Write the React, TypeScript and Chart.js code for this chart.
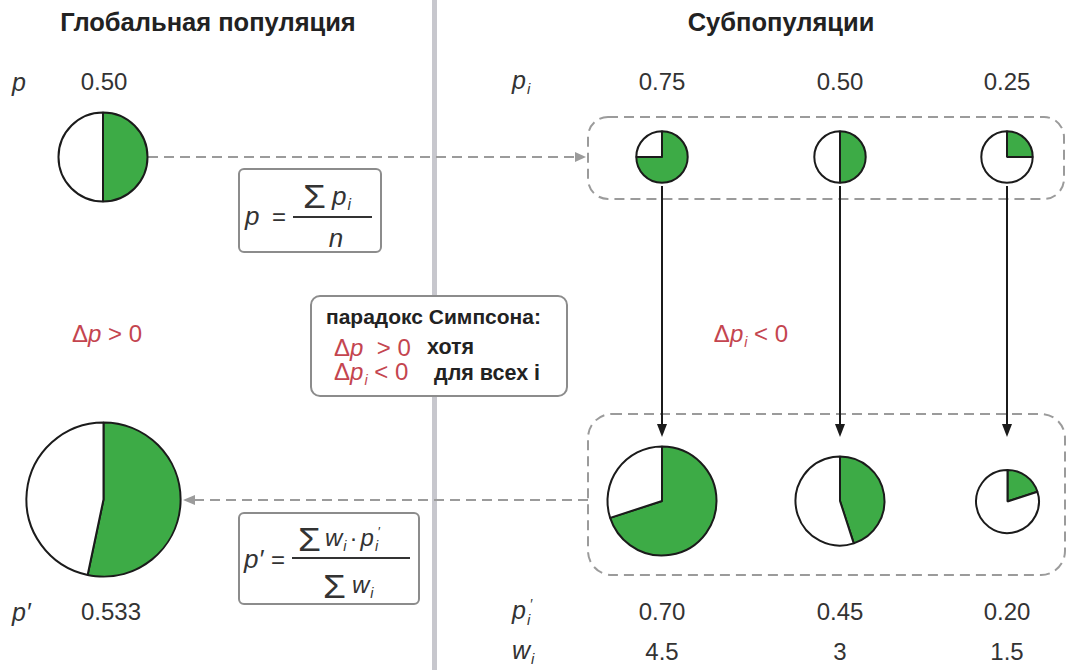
import React, { useEffect, useRef } from "react";
import { Chart, registerables } from "chart.js";

Chart.register(...registerables);

// ---- data ----
const subpopulations = ["1", "2", "3"];
const pBefore = [0.75, 0.5, 0.25];
const pAfter = [0.7, 0.45, 0.2];
const weightsBefore = [1, 1, 1];
const weightsAfter = [4.5, 3, 1.5];
const globalBefore = 0.5;
const globalAfter = 0.533;
const globalWeightBefore = 3;
const globalWeightAfter = 9;
const pBeforeLabels = ["0.75", "0.50", "0.25"];
const pAfterLabels = ["0.70", "0.45", "0.20"];
const weightLabels = ["4.5", "3", "1.5"];
const globalBeforeLabel = "0.50";
const globalAfterLabel = "0.533";

// ---- layout / style ----
const GREEN = "#3dab46";
const RED = "#c4454f";
const INK = "#2b2b2b";
const DASH = "#9b9b9b";
const FONT = '"Liberation Sans", Arial, Helvetica, sans-serif';
const RADIUS_UNIT = 25.7;
const SUB_X = [662, 840, 1007];
const GLOBAL_X = 103;
const TOP_Y = 157;
const BOTTOM_Y = 501;

function Pie({ value, weight, cx, cy }: { value: number; weight: number; cx: number; cy: number }) {
  const ref = useRef<HTMLCanvasElement>(null);
  const r = RADIUS_UNIT * Math.sqrt(weight);
  const size = Math.ceil(2 * r + 8);
  useEffect(() => {
    const chart = new Chart(ref.current as HTMLCanvasElement, {
      type: "pie",
      data: {
        labels: ["p", "1 - p"],
        datasets: [
          {
            data: [value, 1 - value],
            backgroundColor: [GREEN, "#ffffff"],
            borderColor: "#1b1b1b",
            borderWidth: 2,
            hoverOffset: 0,
            radius: r,
          } as any,
        ],
      },
      options: {
        responsive: false,
        animation: false,
        events: [],
        layout: { padding: 0 },
        plugins: { legend: { display: false }, tooltip: { enabled: false } },
      },
    });
    return () => chart.destroy();
  }, [value, weight]);
  return (
    <canvas
      ref={ref}
      width={size}
      height={size}
      style={{ position: "absolute", left: cx - size / 2, top: cy - size / 2, width: size, height: size }}
    />
  );
}

function T({
  x,
  y,
  children,
  style,
  align = "center",
}: {
  x: number;
  y: number;
  children: React.ReactNode;
  style?: React.CSSProperties;
  align?: "center" | "left";
}) {
  return (
    <div
      style={{
        position: "absolute",
        left: x,
        top: y,
        transform: align === "center" ? "translate(-50%, -50%)" : "translate(0, -50%)",
        whiteSpace: "nowrap",
        lineHeight: 1,
        ...style,
      }}
    >
      {children}
    </div>
  );
}

const it: React.CSSProperties = { fontStyle: "italic" };
const sub = (s: string) => (
  <span style={{ fontSize: "0.6em", fontStyle: "italic", verticalAlign: "-0.35em", marginLeft: 1 }}>{s}</span>
);
const prime = () => (
  <span style={{ fontSize: "0.55em", fontStyle: "normal", verticalAlign: "0.75em", marginLeft: 0 }}>′</span>
);
const Sigma = ({ x, y }: { x: number; y: number }) => (
  <T x={x} y={y} align="left" style={{ color: "#333", fontSize: 33 }}>
    <span style={{ display: "inline-block", transform: "scaleX(1.12)", transformOrigin: "left center" }}>Σ</span>
  </T>
);

export default function App() {
  const numStyle: React.CSSProperties = { fontSize: 24, color: "#333" };
  const symStyle: React.CSSProperties = { fontSize: 25, color: "#333", fontStyle: "italic" };
  const fStyle: React.CSSProperties = { color: "#333" };
  return (
    <div
      style={{
        position: "absolute",
        left: 0,
        top: 0,
        width: 1069,
        height: 670,
        background: "#fff",
        fontFamily: FONT,
        color: INK,
        overflow: "hidden",
      }}
    >
      <svg width={1069} height={670} style={{ position: "absolute", left: 0, top: 0 }}>
        <rect x={432} y={0} width={5} height={670} fill="#c7c7cd" />
        <rect x={588} y={117} width={476} height={82} rx={20} fill="none" stroke={DASH} strokeWidth={2} strokeDasharray="10 6" />
        <rect x={588} y={414} width={477} height={161} rx={24} fill="none" stroke={DASH} strokeWidth={2} strokeDasharray="10 6" />
        <line x1={148} y1={TOP_Y} x2={576} y2={TOP_Y} stroke={DASH} strokeWidth={2} strokeDasharray="10 6" />
        <polygon points={`575,${TOP_Y - 5} 586,${TOP_Y} 575,${TOP_Y + 5}`} fill={DASH} />
        <line x1={588} y1={500} x2={194} y2={500} stroke={DASH} strokeWidth={2} strokeDasharray="10 6" />
        <polygon points={`195,495 183,500 195,505`} fill={DASH} />
        {SUB_X.map((x, i) => (
          <g key={i}>
            <line x1={x} y1={186} x2={x} y2={426} stroke="#1b1b1b" strokeWidth={2} />
            <polygon points={`${x - 5},424 ${x},437 ${x + 5},424`} fill="#1b1b1b" />
          </g>
        ))}
      </svg>

      <Pie value={globalBefore} weight={globalWeightBefore} cx={GLOBAL_X} cy={TOP_Y} />
      <Pie value={globalAfter} weight={globalWeightAfter} cx={GLOBAL_X} cy={499} />
      {subpopulations.map((s, i) => (
        <Pie key={"b" + s} value={pBefore[i]} weight={weightsBefore[i]} cx={SUB_X[i]} cy={TOP_Y} />
      ))}
      {subpopulations.map((s, i) => (
        <Pie key={"a" + s} value={pAfter[i]} weight={weightsAfter[i]} cx={SUB_X[i]} cy={BOTTOM_Y} />
      ))}

      {/* titles */}
      <T x={208} y={23} style={{ fontSize: 25.5, fontWeight: "bold", color: "#222" }}>Глобальная популяция</T>
      <T x={781} y={23} style={{ fontSize: 25.5, fontWeight: "bold", color: "#222" }}>Субпопуляции</T>

      {/* top row labels */}
      <T x={12} y={82} align="left" style={symStyle}>p</T>
      <T x={104} y={82} style={numStyle}>{globalBeforeLabel}</T>
      <T x={512} y={82} align="left" style={symStyle}>p{sub("i")}</T>
      {pBeforeLabels.map((l, i) => (
        <T key={l + i} x={SUB_X[i]} y={82} style={numStyle}>{l}</T>
      ))}

      {/* bottom row labels */}
      <T x={12} y={612} align="left" style={symStyle}>p′</T>
      <T x={111} y={612} style={numStyle}>{globalAfterLabel}</T>
      <T x={512} y={612} align="left" style={symStyle}>p{sub("i")}{prime()}</T>
      {pAfterLabels.map((l, i) => (
        <T key={l + i} x={SUB_X[i]} y={612} style={numStyle}>{l}</T>
      ))}
      <T x={512} y={652} align="left" style={symStyle}>w{sub("i")}</T>
      {weightLabels.map((l, i) => (
        <T key={l + i} x={SUB_X[i]} y={652} style={numStyle}>{l}</T>
      ))}

      {/* delta labels */}
      <T x={107} y={334} style={{ fontSize: 24, color: RED }}>Δ<span style={it}>p</span> &gt; 0</T>
      <T x={751} y={336} style={{ fontSize: 24, color: RED }}>Δ<span style={it}>p</span>{sub("i")} &lt; 0</T>

      {/* formula box 1 */}
      <div style={{ position: "absolute", left: 238, top: 168, width: 144, height: 85, boxSizing: "border-box", border: "2px solid #8c8c8c", borderRadius: 6, background: "#fff" }} />
      <T x={245} y={216} align="left" style={{ ...fStyle, fontSize: 26, fontStyle: "italic" }}>p</T>
      <T x={272} y={217} align="left" style={{ ...fStyle, fontSize: 24 }}>=</T>
      <div style={{ position: "absolute", left: 293, top: 216, width: 79, height: 2, background: "#333" }} />
      <Sigma x={303} y={196} />
      <T x={332} y={198} align="left" style={{ ...fStyle, fontSize: 26, fontStyle: "italic" }}>p{sub("i")}</T>
      <T x={336} y={238} style={{ ...fStyle, fontSize: 26, fontStyle: "italic" }}>n</T>

      {/* formula box 2 */}
      <div style={{ position: "absolute", left: 238, top: 512, width: 182, height: 93, boxSizing: "border-box", border: "2px solid #8c8c8c", borderRadius: 6, background: "#fff" }} />
      <T x={244} y={559} align="left" style={{ ...fStyle, fontSize: 26, fontStyle: "italic" }}>p′</T>
      <T x={271} y={560} align="left" style={{ ...fStyle, fontSize: 24 }}>=</T>
      <div style={{ position: "absolute", left: 292, top: 557, width: 118, height: 2, background: "#333" }} />
      <Sigma x={298} y={539} />
      <T x={325} y={539} align="left" style={{ ...fStyle, fontSize: 24, fontStyle: "italic" }}>
        w{sub("i")}
        <span style={{ fontStyle: "normal", margin: "0 3px" }}>·</span>p{sub("i")}{prime()}
      </T>
      <Sigma x={323} y={586} />
      <T x={352} y={587} align="left" style={{ ...fStyle, fontSize: 24, fontStyle: "italic" }}>w{sub("i")}</T>

      {/* Simpson box */}
      <div style={{ position: "absolute", left: 310, top: 295, width: 258, height: 102, boxSizing: "border-box", border: "2px solid #8c8c8c", borderRadius: 10, background: "#fff" }} />
      <T x={326} y={316} align="left" style={{ fontSize: 21, fontWeight: "bold", color: "#222" }}>парадокс Симпсона:</T>
      <T x={334} y={348} align="left" style={{ fontSize: 24, color: RED }}>Δ<span style={it}>p</span>&nbsp; &gt; 0</T>
      <T x={427} y={348} align="left" style={{ fontSize: 21.5, fontWeight: "bold", color: "#222" }}>хотя</T>
      <T x={334} y={374} align="left" style={{ fontSize: 24, color: RED }}>Δ<span style={it}>p</span>{sub("i")} &lt; 0</T>
      <T x={434} y={374} align="left" style={{ fontSize: 21.5, fontWeight: "bold", color: "#222" }}>для всех i</T>
    </div>
  );
}
